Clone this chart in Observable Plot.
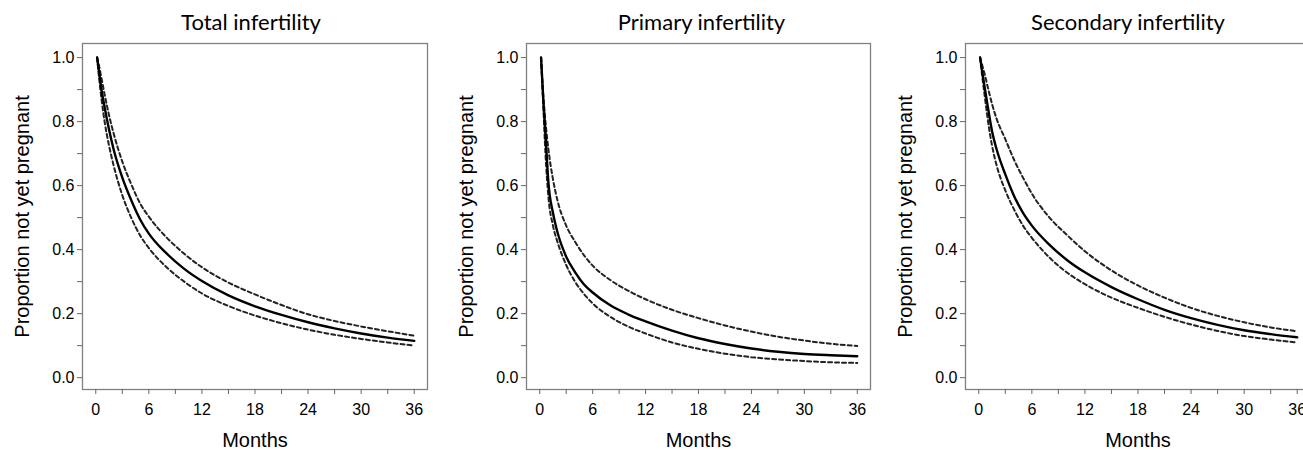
<!DOCTYPE html>
<html>
<head>
<meta charset="utf-8">
<script src="https://cdn.jsdelivr.net/npm/d3@7"></script>
<script src="https://cdn.jsdelivr.net/npm/@observablehq/plot@0.6"></script>
<style>
  html, body { margin: 0; padding: 0; background: #fff; }
  #wrap { position: relative; width: 1303px; height: 450px; overflow: hidden; background: #fff; }
  .panel { position: absolute; top: 0; width: 440px; height: 450px; }
  .panel svg { max-width: none !important; width: 440px; height: 450px; }
</style>
</head>
<body>
<div id="wrap"></div>
<script>
// ---- Data ----
const months = [0.15, 0.4, 0.65, 1, 1.5, 2, 3, 4, 5, 6, 8, 10, 12, 15, 18, 21, 24, 27, 30, 33, 36];

const titles = ["Total infertility", "Primary infertility", "Secondary infertility"];

const totalEst   = [1.0, 0.95, 0.90, 0.845, 0.775, 0.715, 0.625, 0.555, 0.495, 0.45, 0.388, 0.340, 0.302, 0.257, 0.223, 0.196, 0.173, 0.154, 0.138, 0.125, 0.115];
const totalUpper = [1.0, 0.97, 0.935, 0.885, 0.82, 0.765, 0.675, 0.605, 0.545, 0.503, 0.438, 0.387, 0.345, 0.297, 0.26, 0.227, 0.198, 0.177, 0.16, 0.145, 0.131];
const totalLower = [1.0, 0.93, 0.87, 0.80, 0.725, 0.665, 0.57, 0.50, 0.445, 0.405, 0.345, 0.300, 0.263, 0.224, 0.194, 0.170, 0.150, 0.134, 0.121, 0.11, 0.10];

const primaryEst   = [1.0, 0.87, 0.76, 0.605, 0.515, 0.455, 0.378, 0.33, 0.292, 0.266, 0.226, 0.198, 0.176, 0.147, 0.123, 0.105, 0.091, 0.081, 0.074, 0.07, 0.067];
const primaryUpper = [1.0, 0.885, 0.80, 0.71, 0.62, 0.555, 0.475, 0.425, 0.383, 0.35, 0.305, 0.272, 0.245, 0.212, 0.186, 0.163, 0.144, 0.128, 0.116, 0.106, 0.099];
const primaryLower = [1.0, 0.85, 0.70, 0.56, 0.475, 0.425, 0.352, 0.30, 0.262, 0.232, 0.19, 0.16, 0.138, 0.11, 0.09, 0.075, 0.064, 0.057, 0.052, 0.048, 0.046];

const secondaryEst   = [1.0, 0.955, 0.91, 0.85, 0.77, 0.715, 0.635, 0.567, 0.515, 0.475, 0.415, 0.367, 0.329, 0.283, 0.245, 0.212, 0.186, 0.165, 0.148, 0.136, 0.126];
const secondaryUpper = [1.0, 0.975, 0.95, 0.91, 0.855, 0.81, 0.745, 0.68, 0.625, 0.575, 0.50, 0.445, 0.395, 0.335, 0.288, 0.25, 0.218, 0.193, 0.173, 0.157, 0.145];
const secondaryLower = [1.0, 0.94, 0.885, 0.81, 0.725, 0.665, 0.585, 0.525, 0.475, 0.437, 0.375, 0.328, 0.292, 0.25, 0.218, 0.19, 0.166, 0.146, 0.13, 0.119, 0.11];

const xTicks = [0, 3, 6, 9, 12, 15, 18, 21, 24, 27, 30, 33, 36];
const xTickLabels = [0, 6, 12, 18, 24, 30, 36];
const yTicks = [0, 0.1, 0.2, 0.3, 0.4, 0.5, 0.6, 0.7, 0.8, 0.9, 1.0];
const yTickLabels = [0, 0.2, 0.4, 0.6, 0.8, 1.0];

const xLabel = "Months";
const yLabel = "Proportion not yet pregnant";

// ---- Layout ----
const panels = [
  {title: titles[0], est: totalEst, upper: totalUpper, lower: totalLower, left: 0, marginLeft: 82, marginRight: 13, titleDx: -4},
  {title: titles[1], est: primaryEst, upper: primaryUpper, lower: primaryLower, left: 440, marginLeft: 86, marginRight: 10, titleDx: 3},
  {title: titles[2], est: secondaryEst, upper: secondaryUpper, lower: secondaryLower, left: 880, marginLeft: 85, marginRight: 10, titleDx: -10}
];

const toRows = arr => months.map((m, i) => ({m, v: arr[i]}));
const wrap = document.getElementById("wrap");
const near = (a, list) => list.some(b => Math.abs(a - b) < 1e-9);

for (const p of panels) {
  const chart = Plot.plot({
    width: 440,
    height: 450,
    marginLeft: p.marginLeft,
    marginRight: p.marginRight,
    marginTop: 43,
    marginBottom: 61,
    style: {fontFamily: "'Liberation Sans', Arial, Helvetica, sans-serif", background: "transparent", color: "#111", overflow: "visible", maxWidth: "none"},
    x: {domain: [-1.5, 37.5]},
    y: {domain: [-0.037, 1.044]},
    marks: [
      Plot.frame({stroke: "#808080", strokeWidth: 1.3}),
      Plot.axisX(xTicks, {
        anchor: "bottom", tickSize: 5, tickPadding: 9, fontSize: 16,
        stroke: "#666", fill: "#000",
        tickFormat: d => near(d, xTickLabels) ? String(d) : "",
        label: null
      }),
      Plot.axisY(yTicks, {
        anchor: "left", tickSize: 5, tickPadding: 3, fontSize: 16,
        stroke: "#666", fill: "#000",
        tickFormat: d => near(d, yTickLabels) ? d.toFixed(1) : "",
        label: null
      }),
      Plot.line(toRows(p.upper), {x: "m", y: "v", curve: "monotone-x", stroke: "#222", strokeWidth: 2, strokeDasharray: "4,3"}),
      Plot.line(toRows(p.lower), {x: "m", y: "v", curve: "monotone-x", stroke: "#222", strokeWidth: 2, strokeDasharray: "4,3"}),
      Plot.line(toRows(p.est), {x: "m", y: "v", curve: "monotone-x", stroke: "#000", strokeWidth: 2.4}),
      Plot.text([xLabel], {frameAnchor: "bottom", dy: 51, fontSize: 20, fill: "#000", textAnchor: "middle", lineAnchor: "middle"}),
      Plot.text([yLabel], {frameAnchor: "left", dx: -60, rotate: -90, fontSize: 20, fill: "#000", textAnchor: "middle", lineAnchor: "middle"}),
      Plot.text([p.title], {frameAnchor: "top", dy: -21, dx: p.titleDx, fontSize: 22, fontFamily: "Lato, 'Open Sans', sans-serif", fill: "#000", textAnchor: "middle", lineAnchor: "middle"})
    ]
  });
  const div = document.createElement("div");
  div.className = "panel";
  div.style.left = p.left + "px";
  div.appendChild(chart);
  wrap.appendChild(div);
}
</script>
</body>
</html>
